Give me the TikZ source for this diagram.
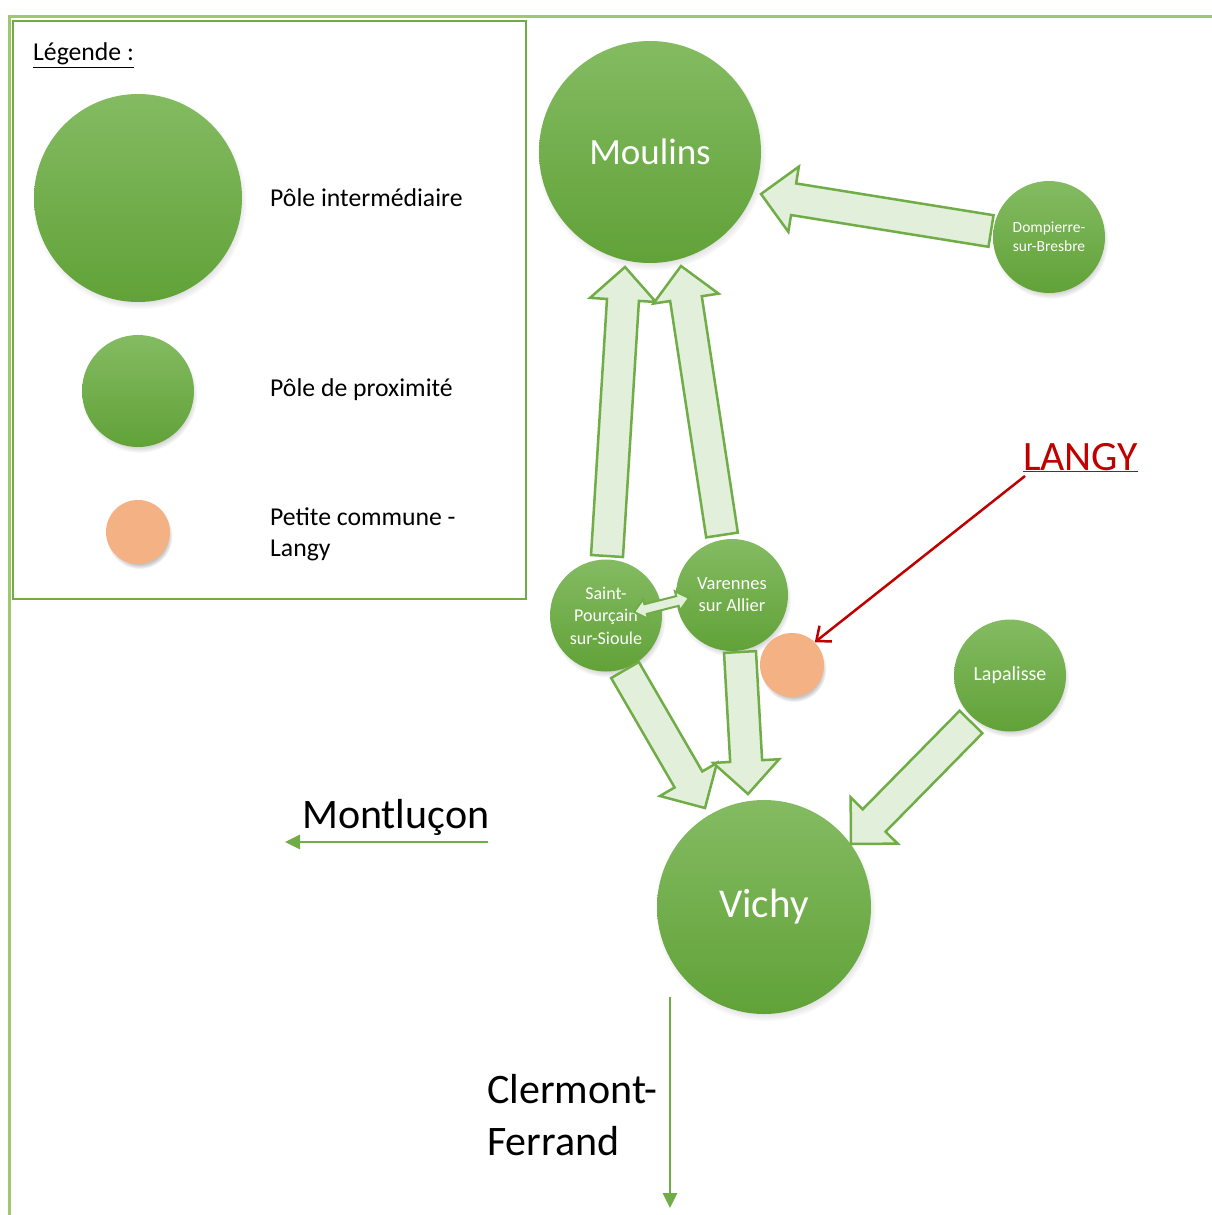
\documentclass[tikz,border=0pt]{standalone}
\usepackage{fontspec}
\setmainfont{Carlito}
\usetikzlibrary{calc,fadings,shadows,arrows.meta}
\definecolor{gA}{RGB}{112,173,71}
\definecolor{gTop}{RGB}{132,187,98}
\definecolor{gBot}{RGB}{97,162,56}
\definecolor{gLight}{RGB}{226,239,218}
\definecolor{frameG}{RGB}{160,198,110}
\definecolor{orangeP}{RGB}{244,177,131}
\definecolor{redL}{RGB}{192,0,0}
\tikzset{
  pole/.style={circle, inner sep=0pt, top color=gTop, bottom color=gBot, text=white, align=center,
    circular drop shadow={shadow xshift=1.5pt, shadow yshift=-4pt, shadow scale=1.03, opacity=0.45}},
  petite/.style={circle, inner sep=0pt, fill=orangeP, minimum size=64pt,
    circular drop shadow={shadow xshift=1.5pt, shadow yshift=-4pt, shadow scale=1.03, opacity=0.45}},
  blockarrow/.style={draw=gA, fill=gLight, line width=2.5pt, line join=miter},
  legendtext/.style={anchor=base west, font=\fontsize{25.7}{31}\selectfont, inner sep=0pt, align=left},
  citytext/.style={anchor=base west, font=\fontsize{42}{52}\selectfont, inner sep=0pt, align=left},
  cityarrow/.style={draw=gA, line width=2.8pt, -{Triangle[length=15pt,width=14pt]}},
}
% block arrow: #1 tail, #2 tip, #3 half shaft, #4 half head, #5 head length
\newcommand{\blockarr}[5]{%
  \coordinate (bah) at ($(#2)!#5!(#1)$);
  \draw[blockarrow] ($(#1)!#3!90:(#2)$) -- ($(bah)!#3!90:(#2)$) -- ($(bah)!#4!90:(#2)$) -- (#2)
    -- ($(bah)!#4!-90:(#2)$) -- ($(bah)!#3!-90:(#2)$) -- ($(#1)!#3!-90:(#2)$) -- cycle;
}
% double block arrow
\newcommand{\dblarr}[5]{%
  \coordinate (dbh1) at ($(#1)!#5!(#2)$);
  \coordinate (dbh2) at ($(#2)!#5!(#1)$);
  \draw[blockarrow, line width=2pt] (#1) -- ($(dbh1)!#4!90:(#2)$) -- ($(dbh1)!#3!90:(#2)$)
    -- ($(dbh2)!#3!-90:(#1)$) -- ($(dbh2)!#4!-90:(#1)$) -- (#2)
    -- ($(dbh2)!#4!90:(#1)$) -- ($(dbh2)!#3!90:(#1)$)
    -- ($(dbh1)!#3!-90:(#2)$) -- ($(dbh1)!#4!-90:(#2)$) -- cycle;
}
\begin{document}
\begin{tikzpicture}[x=1pt,y=-1pt]
\useasboundingbox (0,0) rectangle (1212,1215);
\fill[white] (0,0) rectangle (1212,1215);
% outer frame
\draw[frameG, line width=3pt] (1212,17) -- (9.5,17) -- (9.5,1215);
% legend
\node[draw=gA, line width=2pt, minimum width=513pt, minimum height=578pt, anchor=north west, inner sep=0pt] (legend) at (12,20) {};
\node[legendtext] (legtitle) at (33,61) {\underline{Légende :}};
\node[pole, minimum size=208pt] (lbig) at (138,198) {};
\node[pole, minimum size=112pt] (lmid) at (138,391) {};
\node[petite] (lsmall) at (138,532) {};
\node[legendtext] (t1) at (270,206) {Pôle intermédiaire};
\node[legendtext] (t2) at (270,396) {Pôle de proximité};
\node[legendtext] (t3) at (270,556) {Petite commune -\\Langy};
% poles
\node[pole, minimum size=222pt, font=\fontsize{37}{40}\selectfont] (moulins) at (650,152) {Moulins};
\node[pole, minimum size=214pt, font=\fontsize{41}{44}\selectfont] (vichy) at (764,907) {Vichy};
\node[pole, minimum size=112pt, font=\fontsize{15.5}{19}\selectfont] (domp) at (1049,237) {Dompierre-\\sur-Bresbre};
\node[pole, minimum size=112pt, font=\fontsize{18}{22.5}\selectfont] (stp) at (606,615.5) {Saint-\\Pourçain\\sur-Sioule};
\node[pole, minimum size=112pt, font=\fontsize{18.5}{22}\selectfont] (var) at (732,595) {Varennes\\sur Allier};
\node[pole, minimum size=112pt, font=\fontsize{20}{24}\selectfont] (lap) at (1010,675.5) {Lapalisse};
\node[petite] (langy) at (792,665) {};
% block arrow end points
\coordinate (a1t) at (991,231);  \coordinate (a1h) at (761,194);
\coordinate (a2t) at (607,556);  \coordinate (a2h) at (625,267);
\coordinate (a3t) at (722,535);  \coordinate (a3h) at (681,266);
\coordinate (a4t) at (625,670);  \coordinate (a4h) at (705,808);
\coordinate (a5t) at (740,652);  \coordinate (a5h) at (748,794);
\coordinate (a6t) at (971,722);  \coordinate (a6h) at (851,844);
\coordinate (d1) at (634,612);   \coordinate (d2) at (689,598);
\blockarr{a1t}{a1h}{16pt}{33pt}{33pt}
\blockarr{a2t}{a2h}{16pt}{33pt}{33pt}
\blockarr{a3t}{a3h}{16pt}{33pt}{33pt}
\blockarr{a4t}{a4h}{16pt}{33pt}{33pt}
\blockarr{a5t}{a5h}{16pt}{33pt}{33pt}
\blockarr{a6t}{a6h}{16pt}{33pt}{33pt}
\dblarr{d1}{d2}{5pt}{10pt}{12pt}
% LANGY label and arrow
\node[anchor=base west, inner sep=0pt, text=redL, font=\fontsize{41.8}{44}\selectfont] (langylbl) at (1023,470) {\underline{LANGY}};
\coordinate (ra) at (1025,476);
\draw[redL, line width=2.5pt, -{Straight Barb[length=12pt,width=20pt]}] (ra) -- (langy.north east);
% cities
\node[citytext] (mont) at (302,828) {Montluçon};
\coordinate (ma) at (488,842); \coordinate (mb) at (285,842);
\draw[cityarrow] (ma) -- (mb);
\node[citytext] (clerm) at (487,1155) {Clermont-\\Ferrand};
\coordinate (ca) at (670,997); \coordinate (cb) at (670,1208);
\draw[cityarrow] (ca) -- (cb);
\end{tikzpicture}
\end{document}
